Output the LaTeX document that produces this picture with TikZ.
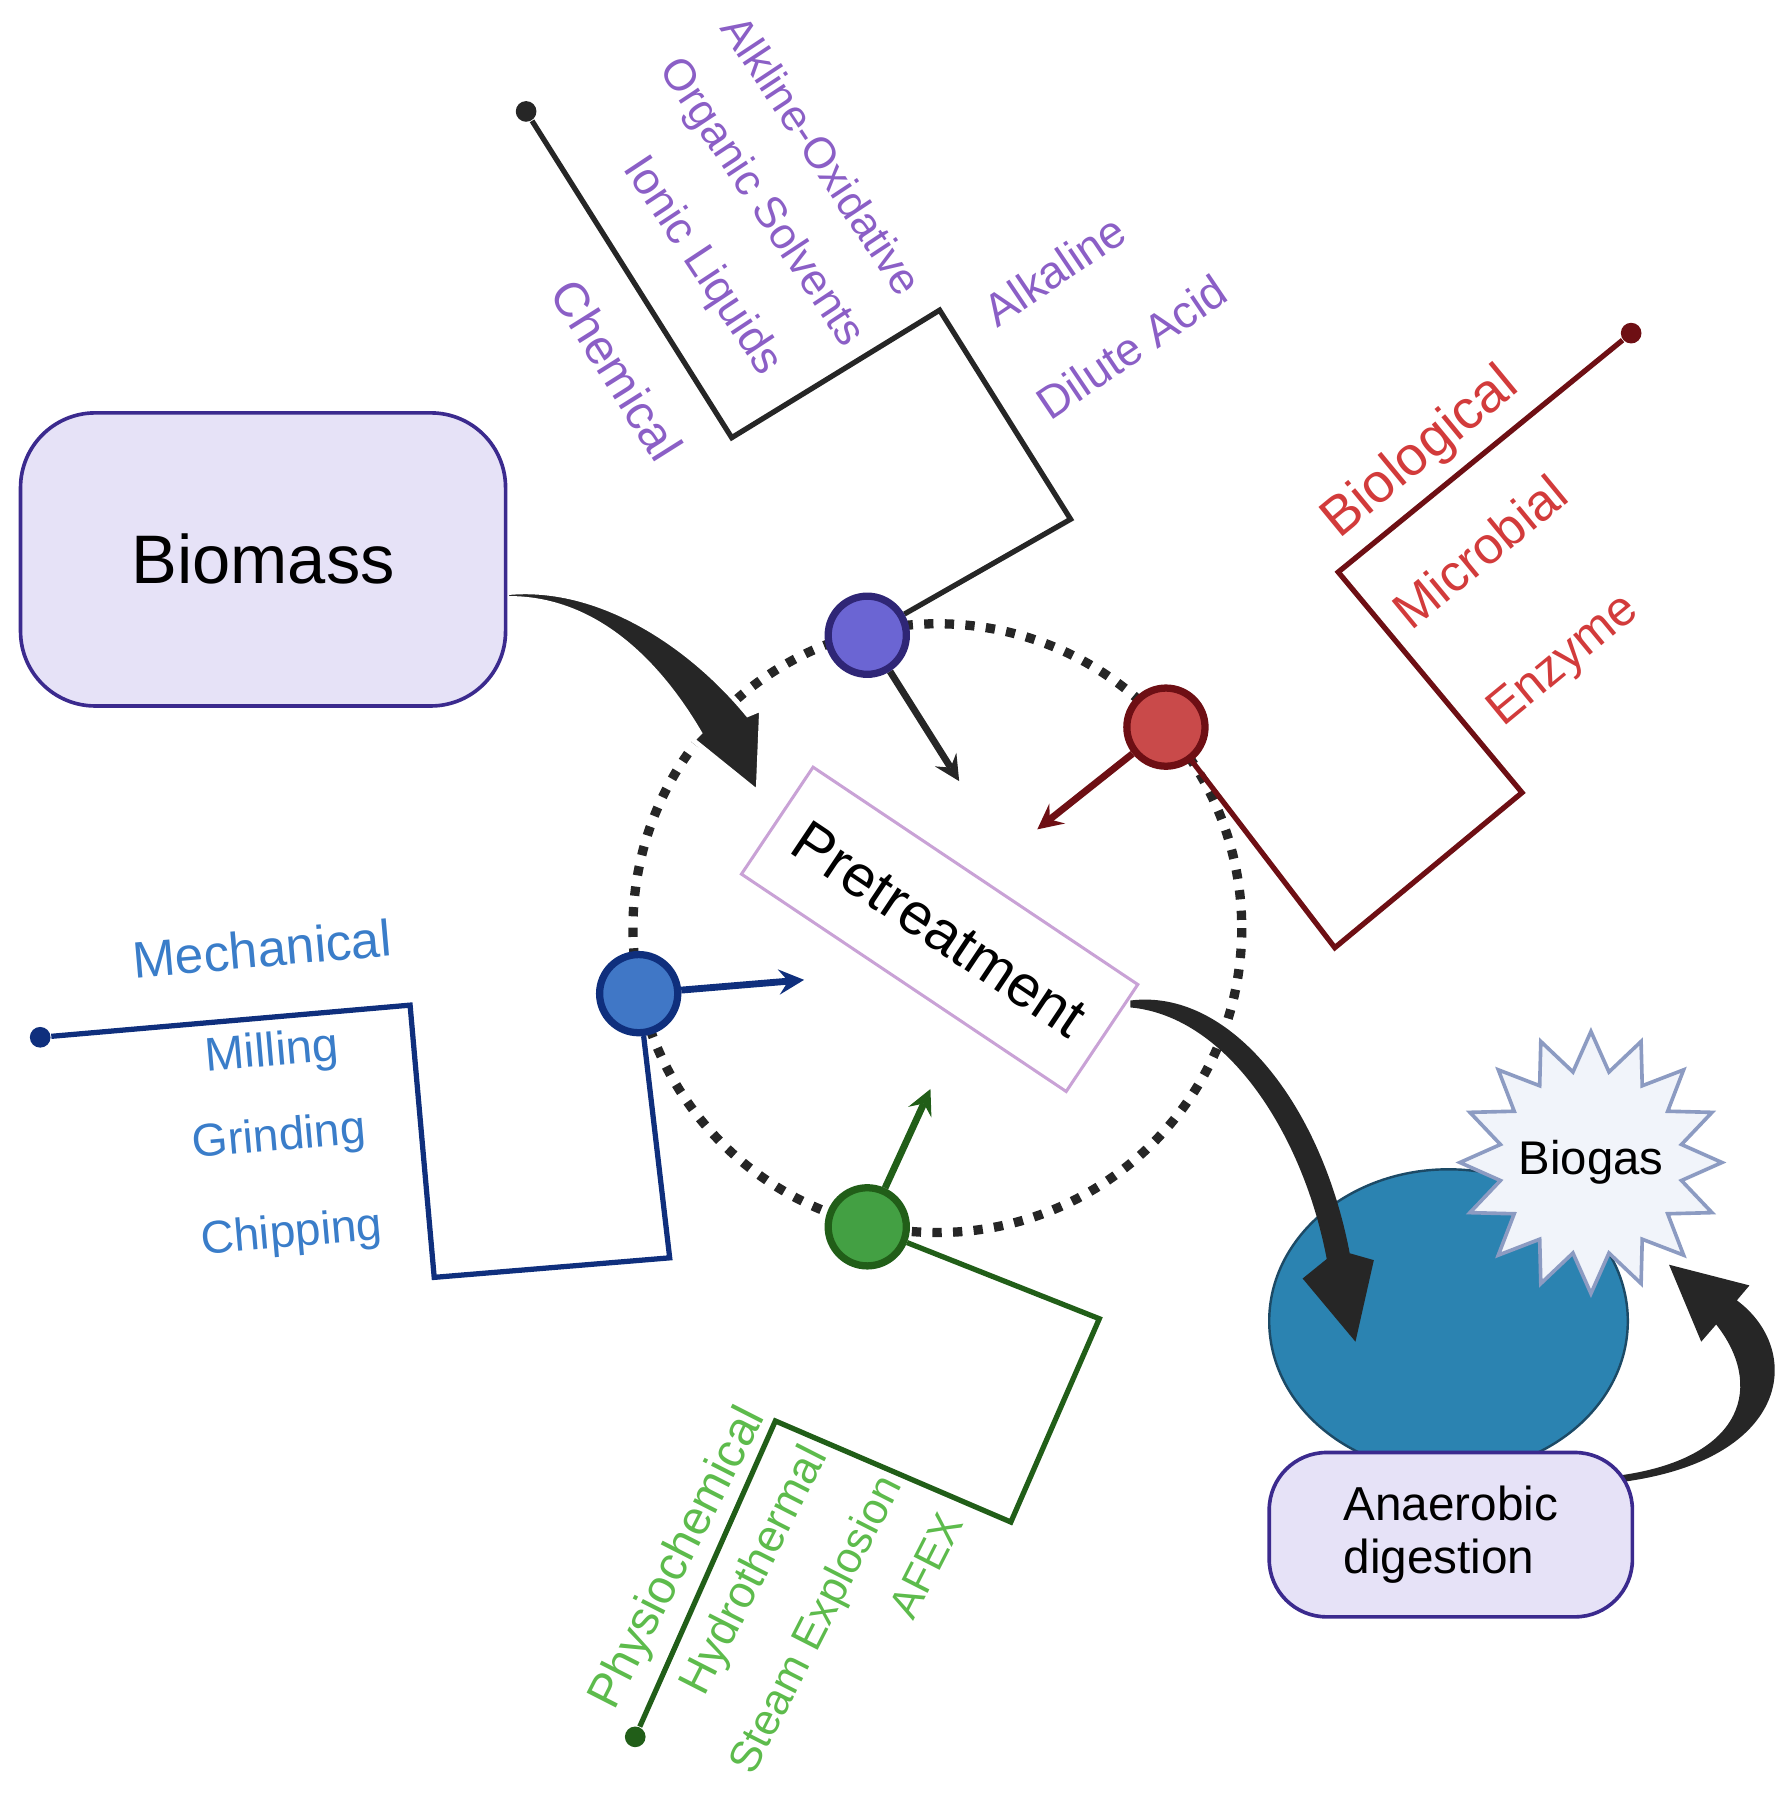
\documentclass[tikz,border=0pt]{standalone}
\usepackage{fontspec}
\setmainfont{Liberation Sans}
\usetikzlibrary{shapes.geometric, arrows}
\definecolor{boxfill}{HTML}{E6E2F7}
\definecolor{boxline}{HTML}{3B2A8E}
\definecolor{chemtxt}{HTML}{8B5FC6}
\definecolor{chemfill}{HTML}{6B65D3}
\definecolor{chemline}{HTML}{2F2676}
\definecolor{biotxt}{HTML}{D23B3B}
\definecolor{biofill}{HTML}{C94A4A}
\definecolor{bioline}{HTML}{6E0F14}
\definecolor{mechtxt}{HTML}{3A7DC9}
\definecolor{mechfill}{HTML}{4077C6}
\definecolor{mechline}{HTML}{0F2F7D}
\definecolor{phystxt}{HTML}{5DBB4C}
\definecolor{physfill}{HTML}{43A043}
\definecolor{physline}{HTML}{215E18}
\definecolor{pretline}{HTML}{C9A2D6}
\definecolor{digfill}{HTML}{2B83B1}
\definecolor{digline}{HTML}{1C4A66}
\definecolor{gasfill}{HTML}{F1F4FA}
\definecolor{gasline}{HTML}{8C9BC2}
\definecolor{arrowgray}{HTML}{262626}
\tikzstyle{box} = [rectangle, rounded corners=0.65cm, draw=boxline, fill=boxfill, line width=0.9pt]
\tikzstyle{hub} = [circle, minimum size=0.68cm, inner sep=0pt, line width=1.8pt]
\tikzstyle{enddot} = [circle, minimum size=0.18cm, inner sep=0pt]
\tikzstyle{branch} = [line width=1.3pt]
\tikzstyle{arrow} = [line width=1.7pt,->,>=stealth]
\tikzstyle{bigarrow} = [fill=arrowgray]
\tikzstyle{ring} = [draw=arrowgray, line width=2.3pt, dash pattern=on 2.3pt off 2.8pt]
\tikzstyle{chemlabel} = [text=chemtxt, inner sep=0pt]
\tikzstyle{biolabel} = [text=biotxt, inner sep=0pt, rotate=39.5]
\tikzstyle{mechlabel} = [text=mechtxt, inner sep=0pt, rotate=5]
\tikzstyle{physlabel} = [text=phystxt, inner sep=0pt, rotate=63]
\newcommand{\fsz}[1]{\fontsize{#1}{1.1\dimexpr#1pt\relax}\selectfont}

\begin{document}
\begin{tikzpicture}[x=0.01cm, y=-0.01cm]
\useasboundingbox (0,0) rectangle (1560,1569.6);

% dotted ring round the pretreatment
\draw [ring] (816,808) circle (265);

% branch corners and arrow tips
\coordinate (c1) at (637,381);
\coordinate (c2) at (818,270);
\coordinate (c3) at (932,452);
\coordinate (b1) at (1165,498);
\coordinate (b2) at (1325,690);
\coordinate (b3) at (1162,825);
\coordinate (m1) at (357,875);
\coordinate (m2) at (378,1112);
\coordinate (m3) at (583,1095);
\coordinate (p1) at (675,1237);
\coordinate (p2) at (880,1325);
\coordinate (p3) at (957,1148);
\coordinate (ctip) at (835,680);
\coordinate (btip) at (903,722);
\coordinate (mtip) at (700,853);
\coordinate (ptip) at (810,948);

\node (cdot) [enddot, fill=arrowgray] at (458,97) {};
\node (bdot) [enddot, fill=bioline] at (1420,290) {};
\node (mdot) [enddot, fill=mechline] at (35,903) {};
\node (pdot) [enddot, fill=physline] at (553,1512) {};

\node (chem) [hub] at (755,553) {};
\node (bio) [hub] at (1015,633) {};
\node (mech) [hub] at (556,865) {};
\node (phys) [hub] at (755,1068) {};

\draw [branch, draw=arrowgray] (cdot) -- (c1) -- (c2) -- (c3) -- (chem);
\draw [branch, draw=bioline] (bdot) -- (b1) -- (b2) -- (b3) -- (bio);
\draw [branch, draw=mechline] (mdot) -- (m1) -- (m2) -- (m3) -- (mech);
\draw [branch, draw=physline] (pdot) -- (p1) -- (p2) -- (p3) -- (phys);

\draw [arrow, arrowgray] (chem) -- (ctip);
\draw [arrow, bioline] (bio) -- (btip);
\draw [arrow, mechline] (mech) -- (mtip);
\draw [arrow, physline] (phys) -- (ptip);

\node [hub, draw=chemline, fill=chemfill] at (chem) {};
\node [hub, draw=bioline, fill=biofill] at (bio) {};
\node [hub, draw=mechline, fill=mechfill] at (mech) {};
\node [hub, draw=physline, fill=physfill] at (phys) {};

\node (pre) [rectangle, draw=pretline, fill=white, line width=0.75pt, minimum width=3.4cm, minimum height=1.12cm, rotate=-33.8, font=\fsz{14.5}] at (818,809) {Pretreatment};

% big curved arrows
\coordinate (a1) at (441,516);
\coordinate (a2) at (984,871);
\coordinate (a3) at (1413,1284);
\fill [bigarrow, draw=white, line width=1.2pt] (a1) .. controls (520,508) and (600,560) .. (651,622) -- (663,617) -- (660,690) -- (603,644) -- (609,638) .. controls (575,580) and (520,520) .. (441,521) -- cycle;

\node (dig) [ellipse, draw=digline, fill=digfill, line width=0.6pt, minimum width=3.12cm, minimum height=2.64cm] at (1261,1150) {};
\fill [bigarrow] (a2) .. controls (1070,860) and (1150,960) .. (1175,1091) -- (1196,1097) -- (1180,1168) -- (1134,1113) -- (1155,1096) .. controls (1135,990) and (1070,885) .. (984,877) -- cycle;
\node (gas) [star, star points=16, star point ratio=1.42, inner sep=0pt, minimum size=2.28cm, draw=gasline, fill=gasfill, line width=0.9pt, label={[font=\fsz{11.7}]center:Biogas}] at (1385,1012) {};
\fill [bigarrow] (a3) .. controls (1520,1268) and (1535,1205) .. (1494,1153) -- (1481,1168) -- (1453,1101) -- (1523,1119) -- (1512,1132) .. controls (1570,1175) and (1560,1270) .. (1413,1290) -- cycle;
\node (ad) [box, rounded corners=0.5cm, minimum width=3.16cm, minimum height=1.43cm, align=left, font=\fsz{11.8}] at (1263,1336) {Anaerobic\\digestion};

\node (bm) [box, minimum width=4.22cm, minimum height=2.55cm, font=\fsz{17}] at (229,487) {Biomass};

% labels
\node (lchem) [chemlabel, rotate=-57.8, font=\fsz{12}] at (537,322) {Chemical};
\node (lionic) [chemlabel, rotate=-56.5, font=\fsz{11.2}] at (611,232) {Ionic Liquids};
\node (lorg) [chemlabel, rotate=-56.5, font=\fsz{10.9}] at (662,177) {Organic Solvents};
\node (lox) [chemlabel, rotate=-56.5, font=\fsz{10.8}] at (716,135) {Alkline-Oxidative};
\node (lalk) [chemlabel, rotate=34, font=\fsz{11.3}] at (918,235) {Alkaline};
\node (ldil) [chemlabel, rotate=34, font=\fsz{11.3}] at (985,302) {Dilute Acid};

\node (lbio) [biolabel, font=\fsz{13.6}] at (1237,395) {Biological};
\node (lmic) [biolabel, font=\fsz{12.8}] at (1288,480) {Microbial};
\node (lenz) [biolabel, font=\fsz{12.2}] at (1362,576) {Enzyme};

\node (lmech) [mechlabel, font=\fsz{12.7}] at (228,826) {Mechanical};
\node (lmill) [mechlabel, font=\fsz{11.7}] at (237,917) {Milling};
\node (lgrind) [mechlabel, font=\fsz{11.4}] at (243,991) {Grinding};
\node (lchip) [mechlabel, font=\fsz{11.4}] at (254,1075) {Chipping};

\node (lphys) [physlabel, font=\fsz{11.8}] at (591,1357) {Physiochemical};
\node (lhyd) [physlabel, font=\fsz{11.2}] at (658,1368) {Hydrothermal};
\node (lsteam) [physlabel, font=\fsz{10.8}] at (712,1415) {Steam Explosion};
\node (lafex) [physlabel, font=\fsz{10.5}] at (806,1363) {AFEX};

\end{tikzpicture}
\end{document}
